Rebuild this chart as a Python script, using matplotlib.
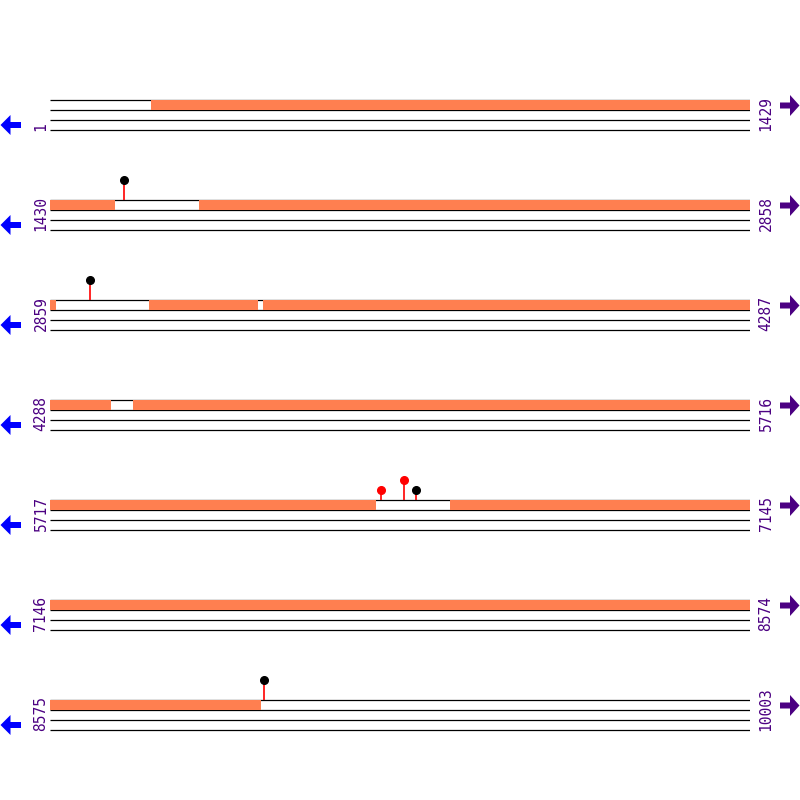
import matplotlib
matplotlib.use("Agg")
import matplotlib.pyplot as plt
from matplotlib.patches import Polygon

# rows of the sequence map (1429 positions per row)
row_starts = [1, 1430, 2859, 4288, 5717, 7146, 8575]
row_len = 1429
seq_end = 10003

# covered (orange) regions
covered_starts = [207, 1734, 3061, 3294, 4457, 6533]
covered_ends = [1563, 2871, 3283, 4412, 6382, 9006]

# variant lollipops
var_pos = [1581, 2941, 6393, 6439, 6464, 9012]
var_height = [2, 2, 1, 2, 1, 2]
var_color = ['black', 'black', 'red', 'red', 'black', 'black']

ORANGE = '#FF7F50'
PURPLE = '#4B0082'
BLUE = '#0000FF'

fig = plt.figure(figsize=(8, 8), dpi=100)

# overlay axes in pixel units for labels and arrows
ax0 = fig.add_axes([0, 0, 1, 1])
ax0.set_xlim(0, 800)
ax0.set_ylim(800, 0)
ax0.axis('off')

for i, start in enumerate(row_starts):
    end = min(start + row_len - 1, seq_end)
    r = 100 + 100 * i  # top of the track, in pixels

    ax = fig.add_axes([50 / 800, 1 - (r + 40) / 800, 700 / 800, 70 / 800])
    ax.set_xlim(start, start + row_len)
    ax.set_ylim(40, -30)
    ax.axis('off')

    # track lines
    ax.hlines([0, 10, 20, 30], start, start + row_len, color='black', lw=0.9, zorder=1)

    # orange covered blocks
    bars = [(s, e - s) for s, e in zip(covered_starts, covered_ends)
            if e > start and s < start + row_len]
    ax.broken_barh(bars, (0, 10), facecolor=ORANGE, edgecolor='none', zorder=2)

    # lollipops
    for p, h, c in zip(var_pos, var_height, var_color):
        if start <= p < start + row_len:
            ax.vlines(p + 0.5, -h * 10, 0, color='red', lw=1.2, zorder=3)
            ax.plot(p + 0.5, -h * 10, 'o', color=c, ms=5.5, mec=c, zorder=4, clip_on=False)

    # position labels
    ax0.text(41, r + 31, str(start), rotation=90, ha='center', va='bottom',
             color=PURPLE, fontsize=10.5, family='DejaVu Sans Mono')
    ax0.text(766, r + 31, str(end), rotation=90, ha='center', va='bottom',
             color=PURPLE, fontsize=10.5, family='DejaVu Sans Mono')

    # strand arrows
    left = [(0.5, r + 25), (10.5, r + 15), (10.5, r + 22), (21, r + 22),
            (21, r + 28), (10.5, r + 28), (10.5, r + 35)]
    right = [(799.5, r + 5.5), (790, r - 5), (790, r + 2.5), (780, r + 2.5),
             (780, r + 8.5), (790, r + 8.5), (790, r + 16)]
    ax0.add_patch(Polygon(left, closed=True, facecolor=BLUE, edgecolor='none'))
    ax0.add_patch(Polygon(right, closed=True, facecolor=PURPLE, edgecolor='none'))

fig.savefig('out.png', dpi=100)
